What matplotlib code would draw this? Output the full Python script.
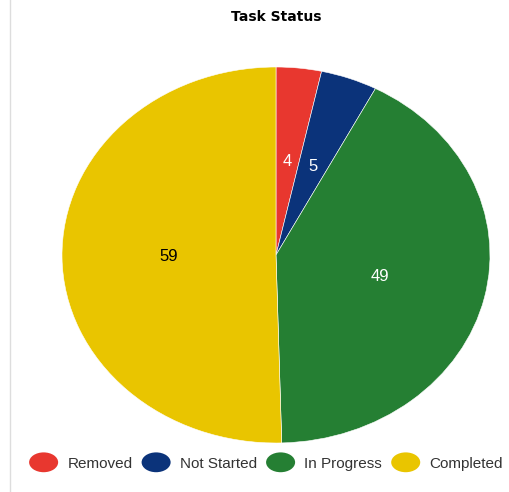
import matplotlib.pyplot as plt
import matplotlib.patches as mpatches
from matplotlib.legend_handler import HandlerPatch
from matplotlib.lines import Line2D

plt.rcParams['font.family'] = ['Liberation Sans', 'DejaVu Sans']

# Donnees
labels = ["Removed", "Not Started", "In Progress", "Completed"]
values = [4, 5, 49, 59]
colors = ["#E8372F", "#0B337A", "#257F33", "#E9C500"]
text_colors = ["white", "white", "white", "black"]

W, H = 509, 492
fig = plt.figure(figsize=(W / 100, H / 100), dpi=100)

# axe du camembert (ellipse, aspect libre)
left, right, top, bottom = 62, 490, 67, 443
ax = fig.add_axes([left / W, 1 - bottom / H, (right - left) / W, (bottom - top) / H])
wedges, texts, autotexts = ax.pie(
    values, colors=colors, startangle=90, counterclock=False,
    autopct=lambda p: f"{round(p * sum(values) / 100):d}", pctdistance=0.5,
    wedgeprops=dict(edgecolor="white", linewidth=0.4),
    textprops=dict(fontsize=12))
for t, c in zip(autotexts, text_colors):
    t.set_color(c)
ax.set_aspect("auto")
ax.set_xlim(-1, 1)
ax.set_ylim(-1, 1)
ax.axis("off")

fig.text(276 / W, 1 - 17 / H, "Task Status", ha="center", va="center",
         fontsize=10, fontweight="bold", family=["DejaVu Sans"])

# ligne grise a gauche
fig.add_artist(Line2D([10 / W, 10 / W], [0, 1], color="#dddddd", lw=1))


class HandlerEllipse(HandlerPatch):
    def create_artists(self, legend, orig_handle, xdescent, ydescent, width,
                       height, fontsize, trans):
        center = (0.5 * width - xdescent, 0.5 * height - ydescent)
        p = mpatches.Ellipse(xy=center, width=width, height=height * 1.45)
        self.update_prop(p, orig_handle, legend)
        p.set_transform(trans)
        return [p]


handles = [mpatches.Ellipse((0, 0), 1, 1, facecolor=c, edgecolor="none") for c in colors]
fig.legend(handles, labels, handler_map={mpatches.Ellipse: HandlerEllipse()},
           loc="center", bbox_to_anchor=(266 / W, 1 - 463 / H), ncol=4,
           frameon=False, fontsize=11, handlelength=1.9, handleheight=1.0,
           handletextpad=0.6, columnspacing=0.6, labelcolor="#333333")

plt.savefig("out.png", dpi=100)
plt.close()
